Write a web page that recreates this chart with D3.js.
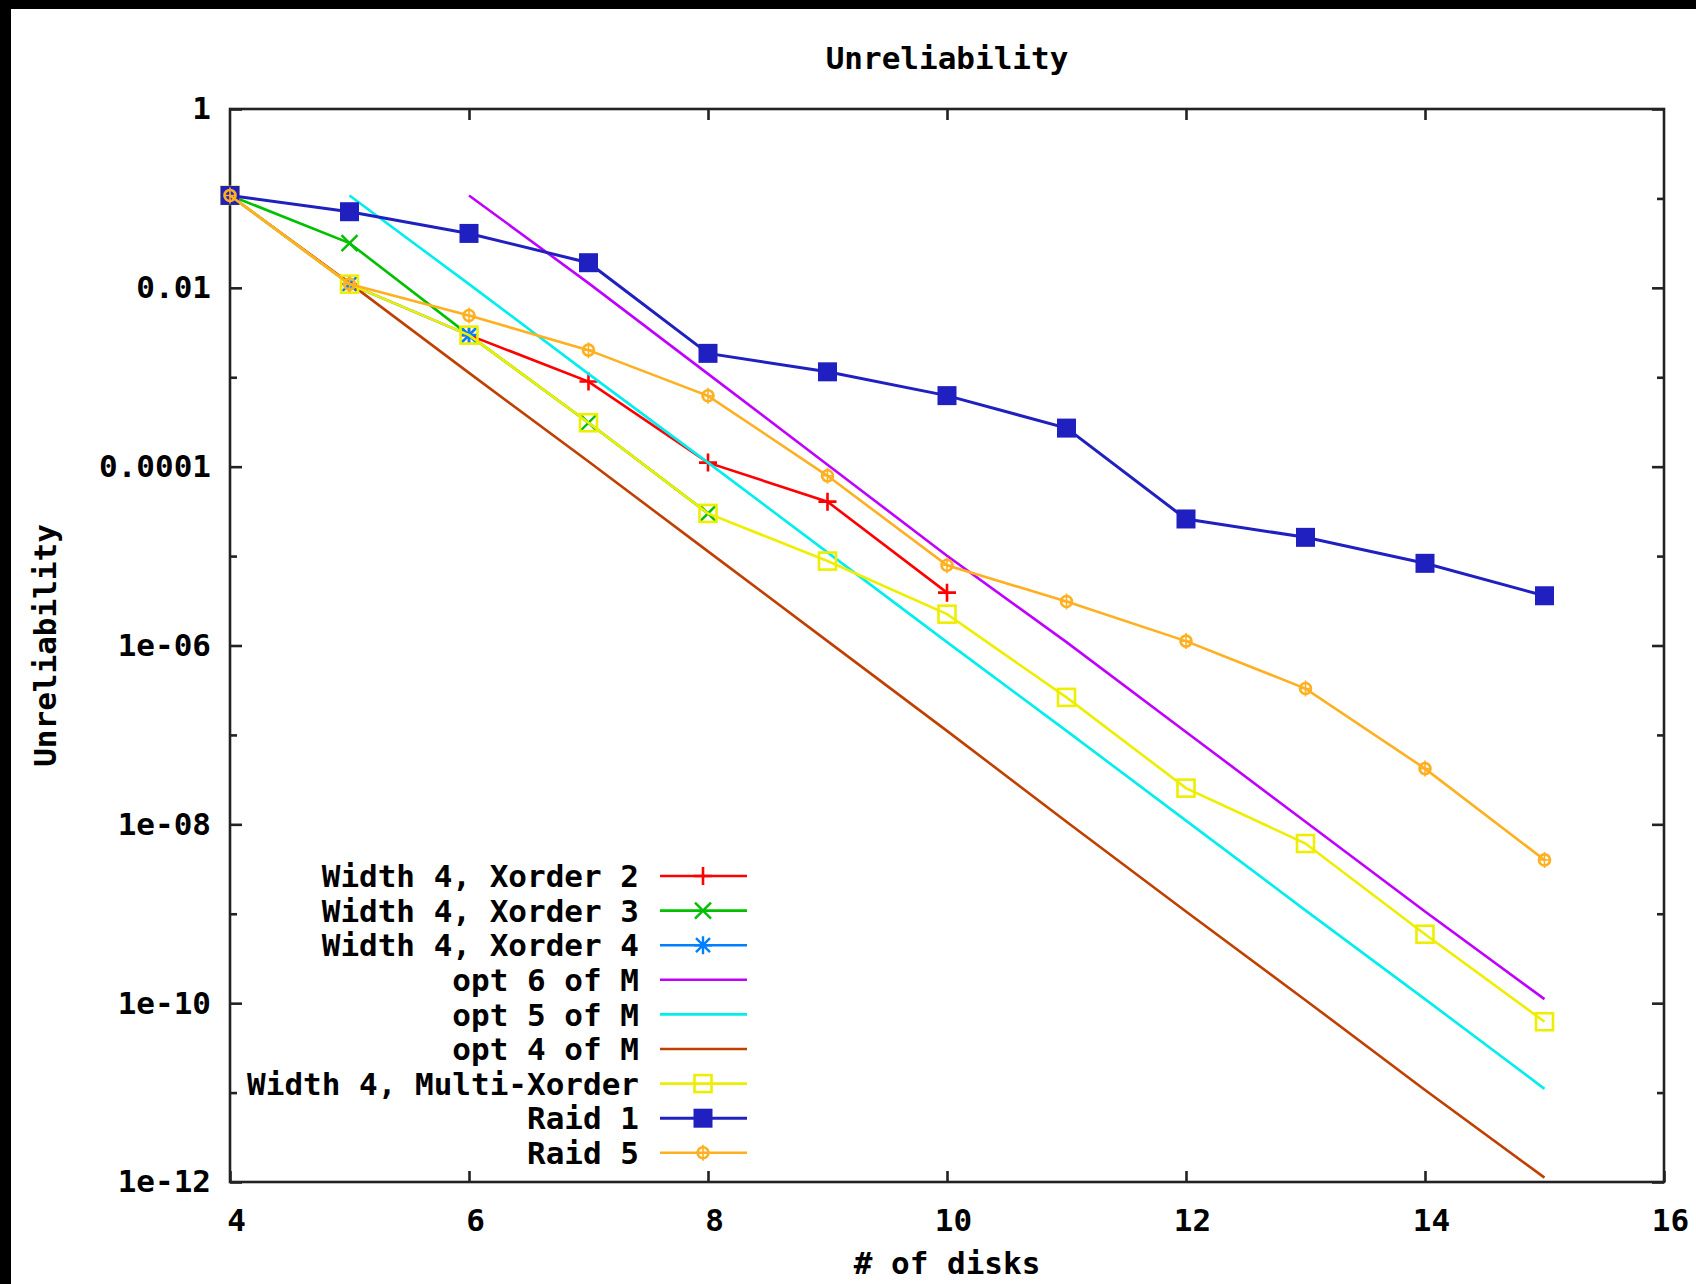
<!DOCTYPE html>
<html>
<head>
<meta charset="utf-8">
<script src="https://cdn.jsdelivr.net/npm/d3@7"></script>
<style>
  body { margin: 0; background: #fff; }
  text { font-family: "DejaVu Sans Mono", "Liberation Mono", monospace; font-weight: bold; font-size: 31px; fill: #000; }
</style>
</head>
<body>
<div class="chart"></div>
<script>
  // number of disks (x) and unreliability per scheme, null = not plotted
  var disks = [4, 5, 6, 7, 8, 9, 10, 11, 12, 13, 14, 15];

  var xorder2 = [null, null, 2.96e-3, 8.95e-4, 1.11e-4, 4.06e-5, 3.9e-6, null, null, null, null, null];
  var xorder3 = [1.08e-1, 3.16e-2, 2.96e-3, 3.1e-4, 3.0e-5, null, null, null, null, null, null, null];
  var xorder4 = [1.08e-1, 1.10e-2, 2.96e-3, null, null, null, null, null, null, null, null, null];
  var opt6 = [null, null, 1.08e-1, 1.13e-2, 1.09e-3, 1.05e-4, 1.01e-5, 1.09e-6, 1.08e-7, 1.07e-8, 1.06e-9, 1.11e-10];
  var opt5 = [null, 1.08e-1, 1.10e-2, 1.09e-3, 1.11e-4, 1.10e-5, 1.09e-6, 1.11e-7, 1.10e-8, 1.09e-9, 1.11e-10, 1.10e-11];
  var opt4 = [1.08e-1, 1.13e-2, 1.12e-3, 1.14e-4, 1.13e-5, 1.12e-6, 1.11e-7, 1.07e-8, 1.06e-9, 1.08e-10, 1.07e-11, 1.12e-12];
  var multiXorder = [1.08e-1, 1.10e-2, 2.96e-3, 3.1e-4, 3.0e-5, 8.8e-6, 2.24e-6, 2.63e-7, 2.54e-8, 6.1e-9, 5.9e-10, 6.2e-11];
  var raid1 = [1.08e-1, 7.1e-2, 4.06e-2, 1.91e-2, 1.85e-3, 1.15e-3, 6.23e-4, 2.70e-4, 2.60e-5, 1.62e-5, 8.3e-6, 3.6e-6];
  var raid5 = [1.08e-1, 1.10e-2, 4.9e-3, 2.01e-3, 6.2e-4, 7.9e-5, 7.9e-6, 3.1e-6, 1.12e-6, 3.3e-7, 4.2e-8, 4.0e-9];

  var legendLabels = ["Width 4, Xorder 2", "Width 4, Xorder 3", "Width 4, Xorder 4",
                      "opt 6 of M", "opt 5 of M", "opt 4 of M",
                      "Width 4, Multi-Xorder", "Raid 1", "Raid 5"];

  var xTicks = [4, 6, 8, 10, 12, 14, 16];
  var yTicks = [1, 1e-2, 1e-4, 1e-6, 1e-8, 1e-10, 1e-12];
  var yTickLabels = ["1", "0.01", "0.0001", "1e-06", "1e-08", "1e-10", "1e-12"];
  var yMinorTicks = [1e-1, 1e-3, 1e-5, 1e-7, 1e-9, 1e-11];

  var W = 1696, H = 1284,
      margin = {top: 109, right: 32, bottom: 102, left: 230};
  var width = W - margin.left - margin.right,
      height = H - margin.top - margin.bottom;

  var series = [
    {name: legendLabels[0], values: xorder2, color: "#ff0000", marker: "plus"},
    {name: legendLabels[1], values: xorder3, color: "#00c000", marker: "cross"},
    {name: legendLabels[2], values: xorder4, color: "#0080ff", marker: "star"},
    {name: legendLabels[3], values: opt6, color: "#c000ff", marker: null},
    {name: legendLabels[4], values: opt5, color: "#00eeee", marker: null},
    {name: legendLabels[5], values: opt4, color: "#c04000", marker: null},
    {name: legendLabels[6], values: multiXorder, color: "#eeee00", marker: "box"},
    {name: legendLabels[7], values: raid1, color: "#2020c0", marker: "fbox"},
    {name: legendLabels[8], values: raid5, color: "#ffb020", marker: "circle"}
  ];

  var x = d3.scaleLinear().domain([4, 16]).range([0, width]);
  var y = d3.scaleLog().domain([1e-12, 1]).range([height, 0]);

  var svg = d3.select(".chart").append("svg")
      .attr("width", W)
      .attr("height", H);

  svg.append("rect").attr("width", W).attr("height", H).attr("fill", "#fff");
  // black edge of the original screenshot
  svg.append("rect").attr("width", W).attr("height", 9).attr("fill", "#000");
  svg.append("rect").attr("width", 11).attr("height", H).attr("fill", "#000");

  var g = svg.append("g")
      .attr("transform", "translate(" + margin.left + "," + margin.top + ")");

  // axes, ticks pointing inward
  var yAxis = d3.axisLeft(y).tickValues(yTicks)
      .tickFormat(function(d, i) { return yTickLabels[i]; })
      .tickSizeInner(-12).tickSizeOuter(0).tickPadding(19);
  var yMinor = d3.axisLeft(y).tickValues(yMinorTicks).tickFormat("")
      .tickSizeInner(-7).tickSizeOuter(0);
  var yRight = d3.axisRight(y).tickValues(yTicks).tickFormat("")
      .tickSizeInner(-12).tickSizeOuter(0);
  var yRightMinor = d3.axisRight(y).tickValues(yMinorTicks).tickFormat("")
      .tickSizeInner(-7).tickSizeOuter(0);
  var xAxis = d3.axisBottom(x).tickValues(xTicks).tickFormat(d3.format("d"))
      .tickSizeInner(-11).tickSizeOuter(0).tickPadding(27);
  var xTop = d3.axisTop(x).tickValues(xTicks.slice(1, -1)).tickFormat("")
      .tickSizeInner(-11).tickSizeOuter(0);

  function styleAxis(sel) {
    sel.select(".domain").remove();
    sel.selectAll("line").attr("stroke", "#222").attr("stroke-width", 2.6);
    sel.selectAll("text").attr("fill", "#000").style("font-size", "31px")
       .style("font-family", "\"DejaVu Sans Mono\", monospace").style("font-weight", "bold");
  }

  g.append("g").call(yAxis).call(styleAxis);
  g.append("g").call(yMinor).call(styleAxis);
  g.append("g").attr("transform", "translate(" + width + ",0)").call(yRight).call(styleAxis);
  g.append("g").attr("transform", "translate(" + width + ",0)").call(yRightMinor).call(styleAxis);
  g.append("g").attr("transform", "translate(0," + height + ")").call(xAxis).call(styleAxis)
      .selectAll("text").attr("dx", 6);
  g.append("g").call(xTop).call(styleAxis);

  g.append("rect")
      .attr("width", width).attr("height", height)
      .attr("fill", "none").attr("stroke", "#222").attr("stroke-width", 2.6);

  function drawMarker(sel, type, color) {
    if (type === "plus") {
      sel.append("path").attr("d", "M-9,0H9M0,-9V9").attr("stroke", color).attr("stroke-width", 2.6);
    } else if (type === "cross") {
      sel.append("path").attr("d", "M-8,-8L8,8M-8,8L8,-8").attr("stroke", color).attr("stroke-width", 2.4);
    } else if (type === "star") {
      sel.append("path").attr("d", "M-9,0H9M0,-9V9M-7,-7L7,7M-7,7L7,-7").attr("stroke", color).attr("stroke-width", 2.4);
    } else if (type === "box") {
      sel.append("rect").attr("x", -8.5).attr("y", -8.5).attr("width", 17).attr("height", 17)
        .attr("fill", "none").attr("stroke", color).attr("stroke-width", 2.6);
    } else if (type === "fbox") {
      sel.append("rect").attr("x", -9.5).attr("y", -9.5).attr("width", 19).attr("height", 19)
        .attr("fill", color);
    } else if (type === "circle") {
      sel.append("circle").attr("r", 5.5).attr("fill", "none")
        .attr("stroke", color).attr("stroke-width", 2.6);
      sel.append("path").attr("d", "M-6,0H6M0,-8V8").attr("stroke", color).attr("stroke-width", 1.6);
    }
  }

  var line = d3.line()
      .defined(function(d) { return d.v != null; })
      .x(function(d) { return x(d.n); })
      .y(function(d) { return y(d.v); });

  series.forEach(function(s) {
    var pts = disks.map(function(n, i) { return {n: n, v: s.values[i]}; });
    g.append("path")
        .datum(pts)
        .attr("d", line)
        .attr("fill", "none")
        .attr("stroke", s.color)
        .attr("stroke-width", s.marker === "fbox" ? 3 : 2.6);
    if (s.marker) {
      g.selectAll(null)
          .data(pts.filter(function(d) { return d.v != null; }))
          .enter().append("g")
          .attr("transform", function(d) { return "translate(" + x(d.n) + "," + y(d.v) + ")"; })
          .each(function() { drawMarker(d3.select(this), s.marker, s.color); });
    }
  });

  // legend
  var legend = svg.append("g").attr("transform", "translate(0,876)");
  var rows = legend.selectAll("g.row")
      .data(series)
      .enter().append("g")
      .attr("class", "row")
      .attr("transform", function(d, i) { return "translate(0," + (i * 34.6) + ")"; });

  rows.append("text")
      .attr("x", 639)
      .attr("dy", "0.36em")
      .attr("text-anchor", "end")
      .text(function(d) { return d.name; });

  rows.append("line")
      .attr("x1", 660).attr("x2", 747)
      .attr("stroke", function(d) { return d.color; })
      .attr("stroke-width", function(d) { return d.marker === "fbox" ? 3 : 2.6; });

  rows.each(function(d) {
    if (d.marker) {
      drawMarker(d3.select(this).append("g").attr("transform", "translate(703,0)"), d.marker, d.color);
    }
  });

  // titles
  svg.append("text")
      .attr("x", margin.left + width / 2).attr("y", 69)
      .attr("text-anchor", "middle")
      .text("Unreliability");

  svg.append("text")
      .attr("x", margin.left + width / 2).attr("y", 1274)
      .attr("text-anchor", "middle")
      .text("# of disks");

  svg.append("text")
      .attr("transform", "translate(56," + (margin.top + height / 2) + ") rotate(-90)")
      .attr("text-anchor", "middle")
      .text("Unreliability");
</script>
</body>
</html>
